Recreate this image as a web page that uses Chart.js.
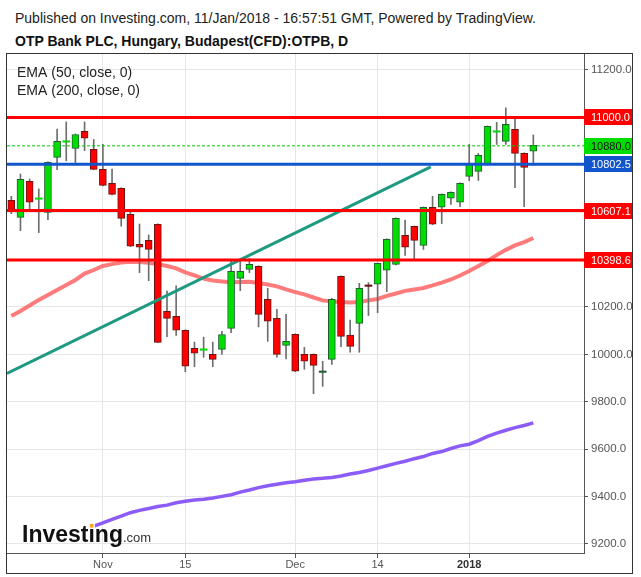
<!DOCTYPE html>
<html>
<head>
<meta charset="UTF-8">
<title>OTP Bank PLC - OTPB, D</title>
<script src="https://cdn.jsdelivr.net/npm/chart.js@4.4.1/dist/chart.umd.min.js"></script>
<style>
  body { margin: 0; background: #fff; font-family: "Liberation Sans", Arial, sans-serif; }
  #pub { position: absolute; left: 15px; top: 10px; font-size: 14px; color: #222; white-space: nowrap; }
  #ttl { position: absolute; left: 15px; top: 33px; font-size: 14px; font-weight: bold; color: #111; white-space: nowrap; }
  #frame { position: absolute; left: 6px; top: 53px; width: 627px; height: 521px; border: 1px solid #333; box-sizing: border-box; }
  #chart { display: block; }
</style>
</head>
<body>
<div id="pub">Published on Investing.com, 11/Jan/2018 - 16:57:51 GMT, Powered by TradingView.</div>
<div id="ttl">OTP Bank PLC, Hungary, Budapest(CFD):OTPB, D</div>
<div id="frame"><canvas id="chart" width="625" height="519"></canvas></div>
<script>
// daily bars, 17 Oct 2017 .. 11 Jan 2018 (index = trading day)
const opens  = [10650,10578,10730,10656,10599,10831,10897,10869,10941,10865,
                10781,10722,10701,10591,10464,10481,10549,10182,10161,10102,
                10026,10019,10000,10021,10110,10321,10359,10372,10232,10152,
                10038,10085,10000,10000, 9927, 9979,10329,10081,10131,10291,
                10296,10355,10380,10502,10540,10460,10621,10621,10659,10642,
                10751,10772,10802,10939,10899,10950,10848,10857];
const highs  = [10667,10761,10740,10698,10812,10951,10981,10930,10981,10907,
                10886,10782,10703,10599,10550,10504,10551,10267,10289,10104,
                10052,10073,10052,10097,10401,10401,10405,10374,10279,10190,
                10169,10087,10030,10002, 9971,10237,10331,10145,10300,10303,
                10386,10488,10576,10567,10542,10622,10667,10677,10686,10724,
                10886,10848,10964,10979,11040,11000,10850,10926];
const lows   = [10594,10522,10614,10514,10568,10779,10817,10805,10860,10779,
                10711,10673,10541,10455,10345,10311,10049,10075,10080, 9927,
                 9948, 9988, 9948,10000,10092,10269,10345,10116,10055, 9988,
                 9981, 9927, 9937, 9834, 9865, 9958,10033,10009,10009,10164,
                10176,10265,10378,10418,10401,10443,10547,10552,10633,10623,
                10733,10734,10800,10886,10886,10704,10623,10798];
const closes = [10612,10739,10642,10659,10810,10899,10900,10928,10912,10781,
                10713,10675,10574,10457,10452,10443,10051,10152,10102, 9950,
                10005,10022, 9979,10084,10351,10351,10380,10169,10140,10000,
                10055, 9929, 9971, 9954, 9927,10232,10076,10034,10279,10289,
                10384,10486,10574,10452,10481,10621,10549,10675,10684,10722,
                10802,10840,10962,10942,10971,10848,10789,10882];

const ema50 = [10162,10183,10206,10230,10251,10272,10293,10314,10341,10356,
               10373,10381,10388,10391,10390,10387,10381,10373,10363,10346,
               10333,10320,10312,10308,10304,10305,10306,10301,10295,10287,
               10274,10263,10253,10240,10228,10223,10221,10219,10221,10228,
               10234,10247,10257,10268,10274,10280,10291,10303,10316,10333,
               10352,10373,10394,10419,10441,10460,10474,10491];
const ema200Start = 9;
const ema200 = [9275,9289,9304,9318,9332,9342,9350,9358,9364,9374,
                9380,9386,9389,9394,9401,9408,9419,9428,9438,9446,
                9452,9458,9463,9469,9474,9477,9481,9487,9495,9502,
                9510,9520,9530,9540,9549,9560,9569,9582,9590,9603,
                9614,9621,9636,9654,9668,9680,9691,9700,9711];

// drawn levels and the trend line (price units)
const levels = [11000, 10880, 10802.5, 10607.1, 10398.6];
const trendX = [-0.47, 45.8];
const trendY = [9920, 10791];

const xTickPos = [10, 19, 31, 40, 50];
const xTickText = ['Nov', '15', 'Dec', '14', '2018'];
const yTicks = [9200, 9400, 9600, 9800, 10000, 10200, 10400, 10600, 10800, 11000, 11200];
const legendLines = ['EMA (50, close, 0)', 'EMA (200, close, 0)'];

const xMin = -0.47, xMax = 62.535;
const yMin = 9162, yMax = 11267.5;

const FONT = '"Liberation Sans", Arial, sans-serif';
const UP = '#00dd00', UP_EDGE = '#1f5f2f', DN = '#ff0000', DN_EDGE = '#6b1414';
const levelStyle = [
  {line: '#ff0000', width: 3, dash: [], tag: '#ff0000', text: '#fff'},
  {line: '#00cc00', width: 1, dash: [3, 2], tag: '#00dd00', text: '#111'},
  {line: '#1155cc', width: 3, dash: [], tag: '#1155cc', text: '#fff'},
  {line: '#ff0000', width: 3, dash: [], tag: '#ff0000', text: '#fff'},
  {line: '#ff0000', width: 3, dash: [], tag: '#ff0000', text: '#fff'}
];

function isDoji(i) { return Math.abs(closes[i] - opens[i]) < 5; }
function bodyRange(i) {
  if (isDoji(i)) {
    const m = (opens[i] + closes[i]) / 2;
    return [m - 3, m + 3];
  }
  return [opens[i], closes[i]];
}
function bodyFill(i) {
  if (isDoji(i)) {
    if (closes[i] > opens[i]) return UP;
    if (closes[i] < opens[i]) return DN_EDGE;
    return UP_EDGE;
  }
  return closes[i] > opens[i] ? UP : DN;
}

const idx = opens.map((_, i) => i);

const datasets = [];
datasets.push({
  type: 'bar', label: 'wick', order: 2, grouped: false,
  data: idx.map(i => ({x: i, y: [lows[i], highs[i]]})),
  backgroundColor: '#6e6e6e', barThickness: 1, borderWidth: 0
});
datasets.push({
  type: 'bar', label: 'body', order: 1, grouped: false,
  data: idx.map(i => ({x: i, y: bodyRange(i)})),
  backgroundColor: ctx => bodyFill(ctx.dataIndex),
  borderColor: ctx => closes[ctx.dataIndex] > opens[ctx.dataIndex] ? UP_EDGE : DN_EDGE,
  borderWidth: ctx => isDoji(ctx.dataIndex) ? 0 : 1,
  borderSkipped: false,
  barThickness: 7
});
datasets.push({
  type: 'line', label: 'EMA 50', order: 3,
  data: idx.map(i => ({x: i, y: ema50[i]})),
  borderColor: 'rgba(255,60,60,0.68)', borderWidth: 4, pointRadius: 0, tension: 0
});
datasets.push({
  type: 'line', label: 'EMA 200', order: 3,
  data: ema200.map((v, k) => ({x: ema200Start + k, y: v})),
  borderColor: '#8c5cf8', borderWidth: 3.5, pointRadius: 0, tension: 0
});
levels.forEach((v, k) => {
  datasets.push({
    type: 'line', label: 'level ' + v, order: 0,
    data: [{x: xMin, y: v}, {x: xMax, y: v}],
    borderColor: levelStyle[k].line, borderWidth: levelStyle[k].width,
    borderDash: levelStyle[k].dash, pointRadius: 0
  });
});
datasets.push({
  type: 'line', label: 'trend', order: 0,
  data: trendX.map((x, k) => ({x: x, y: trendY[k]})),
  borderColor: '#1f9a82', borderWidth: 3, pointRadius: 0
});

const overlay = {
  id: 'overlay',
  afterDraw(chart) {
    const ctx = chart.ctx, ys = chart.scales.y, area = chart.chartArea;
    ctx.save();
    ctx.textBaseline = 'middle';
    ctx.textAlign = 'left';
    ctx.font = '14px ' + FONT;
    ctx.fillStyle = '#222';
    ctx.fillText(legendLines[0], 10, 19);
    ctx.fillText(legendLines[1], 10, 37);

    ctx.font = '11px ' + FONT;
    levels.forEach((v, k) => {
      const py = Math.round(ys.getPixelForValue(v));
      ctx.fillStyle = levelStyle[k].tag;
      ctx.fillRect(area.right, py - 8, chart.width - area.right, 16);
      ctx.fillStyle = levelStyle[k].text;
      ctx.fillText(v.toFixed(1), area.right + 7, py + 0.5);
    });

    // logo
    ctx.textBaseline = 'alphabetic';
    ctx.font = 'bold 23px ' + FONT;
    ctx.fillStyle = '#111';
    const lx = 15, ly = 488;
    ctx.fillText('Investing', lx, ly);
    const w1 = ctx.measureText('Investing').width;
    const wPre = ctx.measureText('Invest').width;
    const wI = ctx.measureText('i').width;
    ctx.fillStyle = '#ffffff';
    ctx.fillRect(lx + wPre, ly - 19, wI, 5);
    ctx.fillStyle = '#f7a21b';
    ctx.fillRect(lx + wPre + wI / 2 - 1.8, ly - 18, 3.6, 3.6);
    ctx.font = '13px ' + FONT;
    ctx.fillStyle = '#333';
    ctx.fillText('.com', lx + w1, ly);
    ctx.restore();
  }
};

new Chart(document.getElementById('chart'), {
  type: 'bar',
  data: {datasets: datasets},
  options: {
    responsive: false,
    animation: false,
    events: [],
    layout: {padding: 0},
    plugins: {legend: {display: false}, tooltip: {enabled: false}},
    scales: {
      x: {
        type: 'linear', position: 'bottom', min: xMin, max: xMax, offset: false,
        grid: {color: '#e6e6e6', offset: false, tickColor: '#555', tickLength: 5},
        border: {color: '#555'},
        afterBuildTicks: s => { s.ticks = xTickPos.map(v => ({value: v})); },
        afterFit: s => { s.height = 20; s.paddingLeft = 0; s.paddingRight = 0; },
        ticks: {
          padding: 0, maxRotation: 0, autoSkip: false,
          color: ctx => ctx.tick && ctx.tick.value === 50 ? '#333' : '#555',
          font: ctx => ({family: FONT, size: 11, weight: ctx.tick && ctx.tick.value === 50 ? 'bold' : 'normal'}),
          callback: v => xTickText[xTickPos.indexOf(v)]
        }
      },
      y: {
        type: 'linear', position: 'right', min: yMin, max: yMax, beginAtZero: false,
        grid: {color: '#e6e6e6', tickColor: '#555', tickLength: 4},
        border: {color: '#555'},
        afterBuildTicks: s => { s.ticks = yTicks.map(v => ({value: v})); },
        afterFit: s => { s.width = 48; s.paddingTop = 0; s.paddingBottom = 0; },
        ticks: {
          padding: 3, color: '#555',
          font: {family: FONT, size: 11.5},
          callback: v => Number(v).toFixed(1)
        }
      }
    }
  },
  plugins: [overlay]
});
</script>
</body>
</html>
